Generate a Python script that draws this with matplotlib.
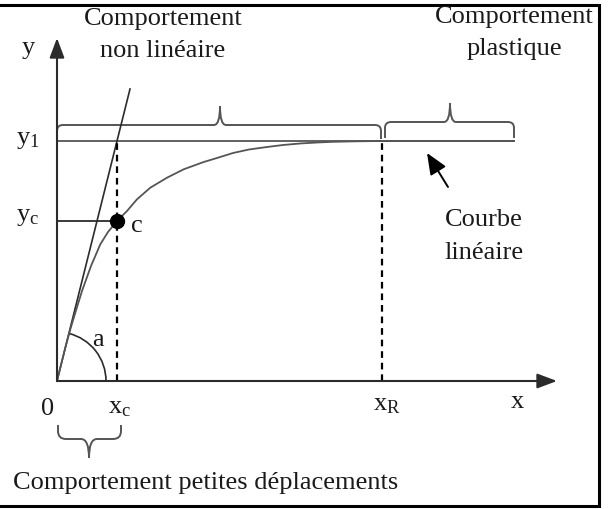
import numpy as np
import matplotlib
matplotlib.use("Agg")
import matplotlib.pyplot as plt
from matplotlib.path import Path
from matplotlib.patches import PathPatch, Arc, Rectangle

# diagram values (origin of the axes = 0,0)
x_c, y_c = 60, 160
x_R, y_1 = 325, 240
x_end = 457          # end of the plateau
x_axis_end = 500
y_axis_end = 343

# behaviour curve, points
curve_x = [0, 3.3, 8.3, 13.3, 18.3, 25, 34, 43.3, 51, 60, 70, 80, 93.3, 110,
           126.7, 146.7, 160, 176, 192, 210, 226, 243, 260, 276, 300, 325, x_end]
curve_y = [0, 13.3, 33.3, 51.7, 68.3, 90, 115, 136.7, 149, 160, 170, 181.7,
           193.3, 203.3, 211.7, 219, 223, 228, 231.5, 234, 236, 237.5, 238.5,
           239.2, 239.7, 240, 240]

# initial tangent
tangent_x = [0, 73]
tangent_y = [0, 292]

# braces: (x start, x end, level of bar, level of ends, tip x, tip height)
braces_top = [(0, x_R - 1, 256, y_1 + 2, 163, 19),
              (x_R + 3, x_end, 259, y_1 + 3, 393, 19)]
brace_low = (1, 64, -58, -44, 32, 19)

plt.rcParams['font.family'] = ['Liberation Serif', 'DejaVu Serif']
plt.rcParams['mathtext.fontset'] = 'custom'
plt.rcParams['mathtext.rm'] = 'Liberation Serif'

fig = plt.figure(figsize=(6.08, 5.09), dpi=100)
ax = fig.add_axes([0, 0, 1, 1])
ax.set_xlim(-57, 551)
ax.set_ylim(-128, 381)
ax.axis('off')

dark = '#2b2b2b'
grey = '#555555'
fs = 19


def brace(x0, x1, yt, yb, tx, h, r=6, color=grey):
    s = np.sign(yt - yb)
    verts = [(x0, yb), (x0, yt - s * r), (x0, yt), (x0 + r, yt),
             (tx - r, yt), (tx, yt), (tx, yt + s * h),
             (tx, yt), (tx + r, yt), (x1 - r, yt),
             (x1, yt), (x1, yt - s * r), (x1, yb)]
    codes = [Path.MOVETO, Path.LINETO, Path.CURVE3, Path.CURVE3,
             Path.LINETO, Path.CURVE3, Path.CURVE3,
             Path.CURVE3, Path.CURVE3, Path.LINETO,
             Path.CURVE3, Path.CURVE3, Path.LINETO]
    ax.add_patch(PathPatch(Path(verts, codes), fill=False, ec=color, lw=1.4))


# frame (left side cut off)
ax.add_patch(Rectangle((-70, -125), 612, 501, fill=False, ec='black', lw=2.2))

# axes with arrows
ax.annotate('', xy=(x_axis_end, 0), xytext=(0, 0),
            arrowprops=dict(arrowstyle='-|>,head_length=1.2,head_width=0.45',
                            color=dark, lw=1.5, shrinkA=0, shrinkB=0))
ax.annotate('', xy=(0, y_axis_end), xytext=(0, 0),
            arrowprops=dict(arrowstyle='-|>,head_length=1.2,head_width=0.45',
                            color=dark, lw=1.5, shrinkA=0, shrinkB=0))

# plateau and y_c level
ax.plot([0, x_end], [y_1, y_1], color=grey, lw=1.3)
ax.plot([0, x_c], [y_c, y_c], color=dark, lw=1.3)

# tangent and curve
ax.plot(tangent_x, tangent_y, color=dark, lw=1.2)
ax.plot(curve_x, curve_y, color=grey, lw=1.3)

# dashed verticals
ax.plot([x_c, x_c], [0, y_1], color='black', lw=1.6, ls=(0, (3, 2.2)))
ax.plot([x_R, x_R], [0, y_1], color='black', lw=1.6, ls=(0, (3, 2.2)))

# point c
ax.plot([x_c], [y_c], 'o', color='black', ms=10)

# angle a
ang = np.degrees(np.arctan2(tangent_y[1], tangent_x[1]))
ax.add_patch(Arc((0, 0), 98, 98, theta1=0, theta2=ang, ec=dark, lw=1.2))

# braces
for b in braces_top:
    brace(*b)
brace(*brace_low, r=8)

# arrow to the linear part
ax.annotate('', xy=(370, 228), xytext=(391, 194),
            arrowprops=dict(arrowstyle='-|>,head_length=1.3,head_width=0.55',
                            color='black', lw=1.4, shrinkA=0, shrinkB=0))

# texts
txt = dict(color='#1a1a1a', fontsize=fs, ha='center', va='center')
base = dict(color='#1a1a1a', fontsize=fs, ha='center', va='baseline')
ax.text(-29, 333, 'y', **txt)
ax.text(106, 356, 'Comportement', **base)
ax.text(106, 324, 'non linéaire', **base)
ax.text(457, 358, 'Comportement', **base)
ax.text(457, 326, 'plastique', **base)
ax.text(-29, 241, r'$\mathregular{y_1}$', **txt)
ax.text(-29, 164, r'$\mathregular{y_c}$', **txt)
ax.text(80, 155, 'c', **txt)
ax.text(41, 41, 'a', **txt)
ax.text(-9, -28, '0', **txt)
ax.text(63, -27, r'$\mathregular{x_c}$', **txt)
ax.text(330, -24, r'$\mathregular{x_R}$', **txt)
ax.text(460, -21, 'x', **txt)
ax.text(427, 161, 'Courbe', **txt)
ax.text(427, 128, 'linéaire', **txt)
ax.text(-44, -102, 'Comportement petites déplacements', color='#1a1a1a',
        fontsize=fs, ha='left', va='center')

fig.savefig('out.png', dpi=100)
